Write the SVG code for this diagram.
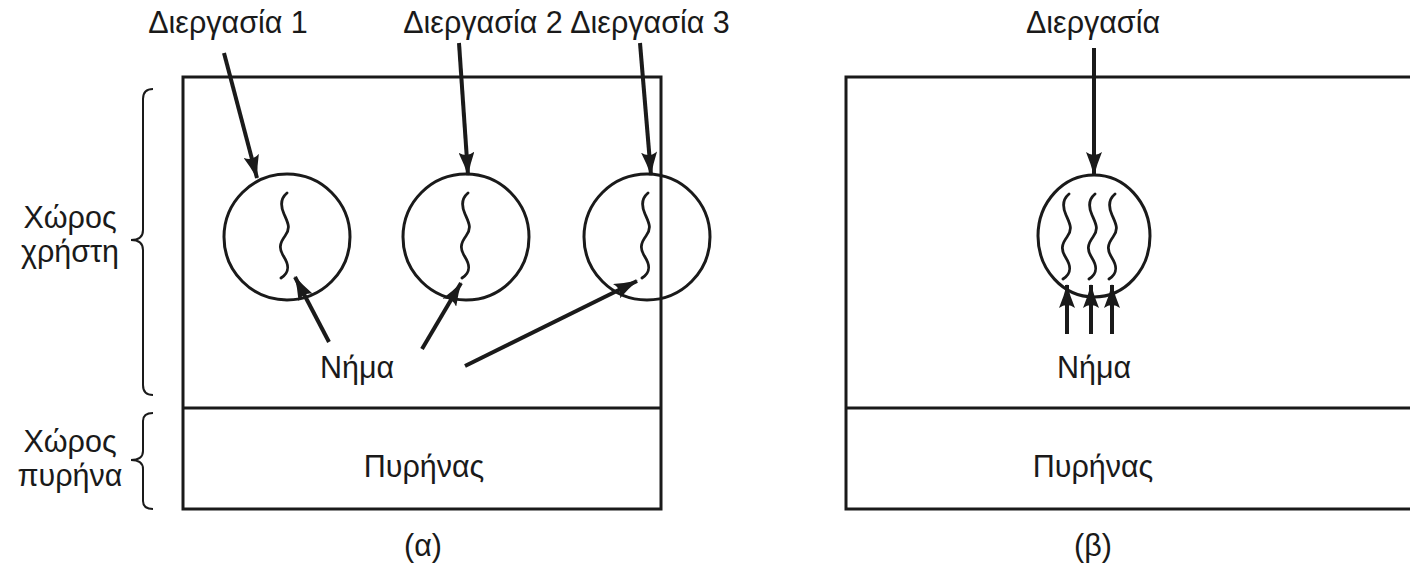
<svg xmlns="http://www.w3.org/2000/svg" width="1410" height="570" viewBox="0 0 1410 570">
<style>
text{font-family:"Liberation Sans","DejaVu Sans",sans-serif;font-size:30.5px;fill:#1a1a1a;text-anchor:middle}
.box{fill:none;stroke:#1a1a1a;stroke-width:3}
.circ{fill:none;stroke:#1a1a1a;stroke-width:3}
.wave{fill:none;stroke:#1a1a1a;stroke-width:2.8;stroke-linecap:round}
.arr{fill:none;stroke:#1a1a1a;stroke-width:4;marker-end:url(#ah)}
.brace{fill:none;stroke:#1a1a1a;stroke-width:2}
</style>
<defs>
<marker id="ah" markerUnits="userSpaceOnUse" viewBox="0 0 24 16" refX="23" refY="8" markerWidth="24" markerHeight="16" orient="auto">
<path d="M0,0 Q12,5 24,8 Q12,11 0,16 Q6,8 0,0 Z" fill="#1a1a1a"/>
</marker>
<path id="wv" d="M2,0 C-4,5 -5,12 -1,21 S6,35 0,43 S-6,56 -1,64 S5,79 -4,85"/>
</defs>
<g id="panel-a">
<rect class="box" x="183" y="77" width="478" height="432"/>
<line class="box" x1="183" y1="408" x2="661" y2="408"/>
</g>
<g id="panel-b">
<rect class="box" x="846" y="77" width="580" height="432"/>
<line class="box" x1="846" y1="408" x2="1420" y2="408"/>
</g>
<g id="left-labels">
<text x="70" y="228">Χώρος</text>
<text x="70" y="262">χρήστη</text>
<path class="brace" d="M153,89 Q143,89 143,99 L143,230 Q143,240 131,240 Q143,240 143,250 L143,385 Q143,395 153,395"/>
<text x="70" y="452">Χώρος</text>
<text x="70" y="486">πυρήνα</text>
<path class="brace" d="M153,413 Q143,413 143,421 L143,451 Q143,460 131,460 Q143,460 143,469 L143,501 Q143,509 153,509"/>
</g>
<g id="process1">
<text x="228" y="33">Διεργασία 1</text>
<circle class="circ" cx="287" cy="237" r="63"/>
<use href="#wv" class="wave" x="285" y="193"/>
</g>
<g id="process2">
<text x="483" y="33">Διεργασία 2</text>
<circle class="circ" cx="466" cy="237" r="63"/>
<use href="#wv" class="wave" x="466" y="193"/>
</g>
<g id="process3">
<text x="650" y="33">Διεργασία 3</text>
<circle class="circ" cx="647" cy="237" r="63"/>
<use href="#wv" class="wave" x="646" y="193"/>
</g>
<g id="thread-label-a">
<text x="357" y="378">Νήμα</text>
</g>
<g id="kernel-a">
<text x="424" y="477">Πυρήνας</text>
</g>
<g id="caption-a">
<text x="423" y="556">(α)</text>
</g>
<g id="process-b">
<text x="1093" y="33">Διεργασία</text>
<ellipse class="circ" cx="1094" cy="236" rx="56" ry="61"/>
<use href="#wv" class="wave" x="1067" y="194"/>
<use href="#wv" class="wave" x="1093" y="194"/>
<use href="#wv" class="wave" x="1113" y="194"/>
</g>
<g id="thread-label-b">
<text x="1094" y="378">Νήμα</text>
</g>
<g id="kernel-b">
<text x="1093" y="477">Πυρήνας</text>
</g>
<g id="caption-b">
<text x="1093" y="556">(β)</text>
</g>
<g id="connectors">
<line class="arr" x1="224" y1="53" x2="257" y2="178"/>
<line class="arr" x1="459" y1="43" x2="468" y2="175"/>
<line class="arr" x1="640" y1="43" x2="651" y2="175"/>
<line class="arr" x1="329" y1="342" x2="295" y2="277"/>
<line class="arr" x1="422" y1="349" x2="461" y2="283"/>
<line class="arr" x1="465" y1="366" x2="637" y2="281"/>
<line class="arr" x1="1094" y1="48" x2="1094" y2="175"/>
<line class="arr" x1="1067" y1="334" x2="1067" y2="285"/>
<line class="arr" x1="1091" y1="334" x2="1091" y2="285"/>
<line class="arr" x1="1112" y1="334" x2="1112" y2="285"/>
</g>
</svg>
